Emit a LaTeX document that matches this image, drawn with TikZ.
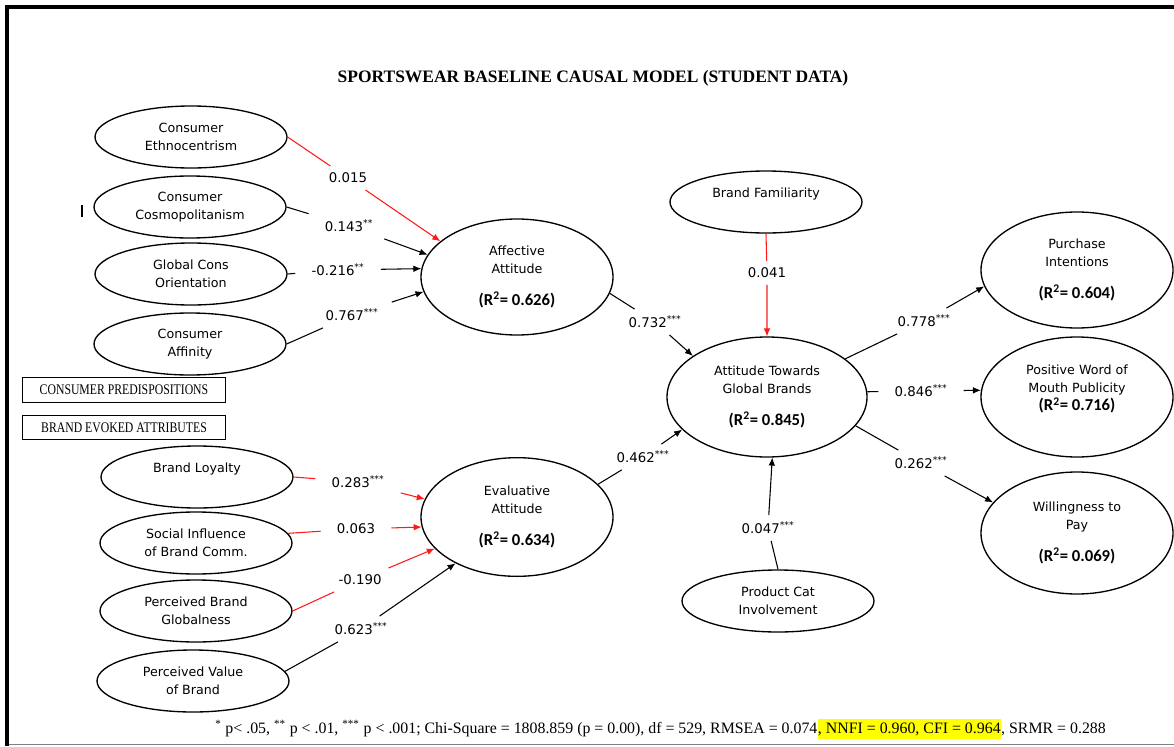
\documentclass[tikz,border=0pt]{standalone}
\usepackage{fontspec}
\setmainfont{Liberation Serif}
\newfontfamily\verdfont{DejaVu Sans}
\newfontfamily\calibfont{Carlito}
\newfontfamily\narrowfont[FakeStretch=0.8]{Liberation Serif}
\usepackage{tikz}
\definecolor{pathred}{HTML}{FF1A1A}
\definecolor{hiyellow}{HTML}{FFFF00}
\usetikzlibrary{arrows.meta,shapes.geometric}
\tikzstyle{construct}=[ellipse, draw=black, line width=1pt, inner sep=0pt, minimum width=144pt, minimum height=46.5pt, align=center, font=\verdfont\fontsize{9.5}{13.5}\selectfont]
\tikzstyle{latent}=[construct, minimum height=87pt]
\tikzstyle{coef}=[inner xsep=12pt, inner ysep=5pt, font=\verdfont\fontsize{10}{12}\selectfont]
\tikzstyle{effect}=[color=black, line width=0.8pt, -{Latex[length=6pt,width=5pt]}]
\tikzstyle{weakeffect}=[effect, color=pathred]
\tikzstyle{groupbox}=[draw=black, line width=0.8pt, minimum width=152pt, minimum height=18.5pt, inner sep=0pt, font=\narrowfont\fontsize{11}{13}\selectfont]
\newcommand{\rsq}[1]{{\calibfont\bfseries\fontsize{12.5}{14}\selectfont (R\textsuperscript{2}= #1)}}
\newcommand{\sig}[1]{\textsuperscript{#1}}

\begin{document}
\begin{tikzpicture}[x=0.75pt, y=-0.75pt]
	\useasboundingbox (0,0) rectangle (1174,746);
	% frame
	\draw[line width=3pt] (7,746) -- (7,6.5) -- (1174,6.5);
	\draw[gray, line width=1pt] (9,744.5) -- (1174,744.5);
	\draw[line width=0.9pt] (82,205) -- (82,217);

	\node[font=\bfseries\fontsize{13.1}{15}\selectfont] (title) at (593,78) {SPORTSWEAR BASELINE CAUSAL MODEL (STUDENT DATA)};

	% consumer predispositions
	\node[construct] (ce) at (191,137) {Consumer\\Ethnocentrism};
	\node[construct] (cc) at (190,207) {Consumer\\Cosmopolitanism};
	\node[construct] (gco) at (191,274) {Global Cons\\Orientation};
	\node[construct] (ca) at (190,344) {Consumer\\Affinity};
	\node[groupbox] (cpbox) at (124,390) {CONSUMER PREDISPOSITIONS};
	\node[groupbox] (bebox) at (124,427.5) {BRAND EVOKED ATTRIBUTES};

	% brand evoked attributes
	\node[construct] (bl) at (197,477) {Brand Loyalty\\~};
	\node[construct] (si) at (196,543) {Social Influence\\of Brand Comm.};
	\node[construct] (pbg) at (196,611) {Perceived Brand\\Globalness};
	\node[construct] (pvb) at (193,681) {Perceived Value\\of Brand};

	% attitudes
	\node[latent] (aa) at (517,277) {Affective\\Attitude\\[10pt]\rsq{0.626}};
	\node[latent, minimum height=89pt] (ea) at (517,517) {Evaluative\\Attitude\\[10pt]\rsq{0.634}};
	\node[construct] (bf) at (766,202) {Brand Familiarity\\~};
	\node[latent, minimum width=150pt, minimum height=90pt] (atgb) at (767,397) {Attitude Towards\\Global Brands\\[10pt]\rsq{0.845}};
	\node[construct] (pci) at (778,601) {Product Cat\\Involvement};

	% outcomes
	\node[latent] (pi) at (1077,270) {Purchase\\Intentions\\[10pt]\rsq{0.604}};
	\node[latent, minimum height=90pt] (pw) at (1077,397) {Positive Word of\\Mouth Publicity\\\rsq{0.716}\\~};
	\node[latent, minimum height=91.5pt] (wtp) at (1077,533) {Willingness to\\Pay\\[10pt]\rsq{0.069}};

	% coefficients
	\node[coef] (ce2aa) at (348,178) {0.015};
	\node[coef] (cc2aa) at (349,226) {0.143\sig{**}};
	\node[coef] (gco2aa) at (338,270) {-0.216\sig{**}};
	\node[coef] (ca2aa) at (352,315) {0.767\sig{***}};
	\node[coef] (aa2atgb) at (655,322) {0.732\sig{***}};
	\node[coef] (bf2atgb) at (767,273) {0.041};
	\node[coef] (ea2atgb) at (643,457) {0.462\sig{***}};
	\node[coef] (pci2atgb) at (768,528) {0.047\sig{***}};
	\node[coef] (atgb2pi) at (924,321) {0.778\sig{***}};
	\node[coef] (atgb2pw) at (921,391) {0.846\sig{***}};
	\node[coef] (atgb2wtp) at (921,463) {0.262\sig{***}};
	\node[coef] (bl2ea) at (358,482) {0.283\sig{***}};
	\node[coef] (si2ea) at (356,529) {0.063};
	\node[coef] (pbg2ea) at (360,580) {-0.190};
	\node[coef] (pvb2ea) at (361,629) {0.623\sig{***}};

	% paths
	\draw[weakeffect] (ce.east) -- (ce2aa) -- (aa.155);
	\draw[effect] (cc.east) -- (cc2aa) -- (aa.166);
	\draw[effect] (gco.east) -- (gco2aa) -- (aa.175);
	\draw[effect] (ca.east) -- (ca2aa) -- (aa.189);
	\draw[effect] (aa.-10) -- (aa2atgb) -- (atgb.151);
	\draw[weakeffect] (bf.south) -- (bf2atgb) -- (atgb.90);
	\draw[effect] (ea.22) -- (ea2atgb) -- (atgb.201);
	\draw[effect] (pci.north) -- (pci2atgb) -- (atgb.275);
	\draw[effect] (atgb.26) -- (atgb2pi) -- (pi.190);
	\draw[effect] (atgb.3) -- (atgb2pw) -- (pw.176);
	\draw[effect] (atgb.-18) -- (atgb2wtp) -- (wtp.160);
	\draw[weakeffect] (bl.east) -- (bl2ea) -- (ea.169);
	\draw[weakeffect] (si.6) -- (si2ea) -- (ea.186);
	\draw[weakeffect] (pbg.east) -- (pbg2ea) -- (ea.201);
	\draw[effect] (pvb.6) -- (pvb2ea) -- (ea.217);

	% fit notes
	\node[anchor=base west, inner sep=0pt, font=\fontsize{11.9}{14}\selectfont] (fit1) at (215,733) {\sig{*} p< .05, \sig{**} p < .01, \sig{***} p < .001; Chi-Square = 1808.859 (p = 0.00), df = 529, RMSEA = 0.074};
	\node[anchor=base west, inner xsep=0pt, inner ysep=2.5pt, fill=hiyellow, font=\fontsize{11.9}{14}\selectfont] (fit2) at (fit1.base east) {, NNFI = 0.960, CFI = 0.964};
	\node[anchor=base west, inner sep=0pt, font=\fontsize{11.9}{14}\selectfont] (fit3) at (fit2.base east) {, SRMR = 0.288};
\end{tikzpicture}
\end{document}
